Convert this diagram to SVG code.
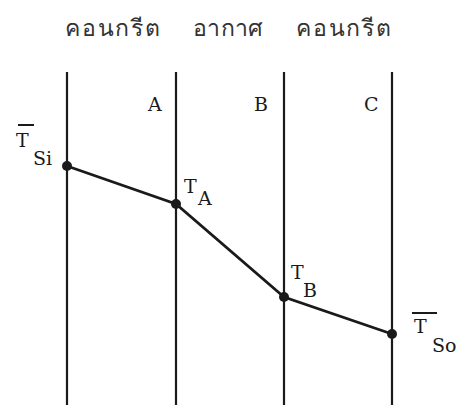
<svg xmlns="http://www.w3.org/2000/svg" width="461" height="405" viewBox="0 0 461 405">
<style>
.wall{stroke:#1a1a1a;stroke-width:2.2}
.prof{stroke:#1a1a1a;stroke-width:2.8;fill:none}
.lbl{font-family:"DejaVu Serif",serif;font-size:19px;fill:#1a1a1a}
.th{font-family:"Noto Sans","Noto Sans CJK SC",sans-serif;font-size:23px;fill:#333}
.dot{fill:#1a1a1a}
</style>
<rect width="461" height="405" fill="#fff"/>
<text class="th" x="65" y="36" textLength="95" lengthAdjust="spacing">คอนกรีต</text>
<text class="th" x="193" y="36" textLength="70" lengthAdjust="spacing">อากาศ</text>
<text class="th" x="296" y="36" textLength="95" lengthAdjust="spacing">คอนกรีต</text>
<g id="walls">
<line class="wall" x1="67" y1="72" x2="67" y2="405"/>
<line class="wall" x1="176" y1="72" x2="176" y2="405"/>
<line class="wall" x1="284" y1="72" x2="284" y2="405"/>
<line class="wall" x1="392" y1="72" x2="392" y2="405"/>
</g>
<text class="lbl" x="148" y="111">A</text>
<text class="lbl" x="254" y="111">B</text>
<text class="lbl" x="364" y="111">C</text>
<g id="connectors">
<polyline class="prof" points="67,166 176,204 284,297 392,334"/>
</g>
<g id="Tsi">
<circle class="dot" cx="67" cy="166" r="5"/>
<line x1="18" y1="125" x2="34" y2="125" stroke="#1a1a1a" stroke-width="2"/>
<text class="lbl" x="16" y="147">T</text>
<text class="lbl" x="33" y="165">Si</text>
</g>
<g id="TA">
<circle class="dot" cx="176" cy="204" r="5"/>
<text class="lbl" x="184" y="193">T</text>
<text class="lbl" x="198" y="205">A</text>
</g>
<g id="TB">
<circle class="dot" cx="284" cy="297" r="5"/>
<text class="lbl" x="291" y="279">T</text>
<text class="lbl" x="303" y="297">B</text>
</g>
<g id="Tso">
<circle class="dot" cx="392" cy="334" r="5"/>
<line x1="412" y1="313" x2="437" y2="313" stroke="#1a1a1a" stroke-width="2"/>
<text class="lbl" x="414" y="333">T</text>
<text class="lbl" x="432" y="352">So</text>
</g>
</svg>
